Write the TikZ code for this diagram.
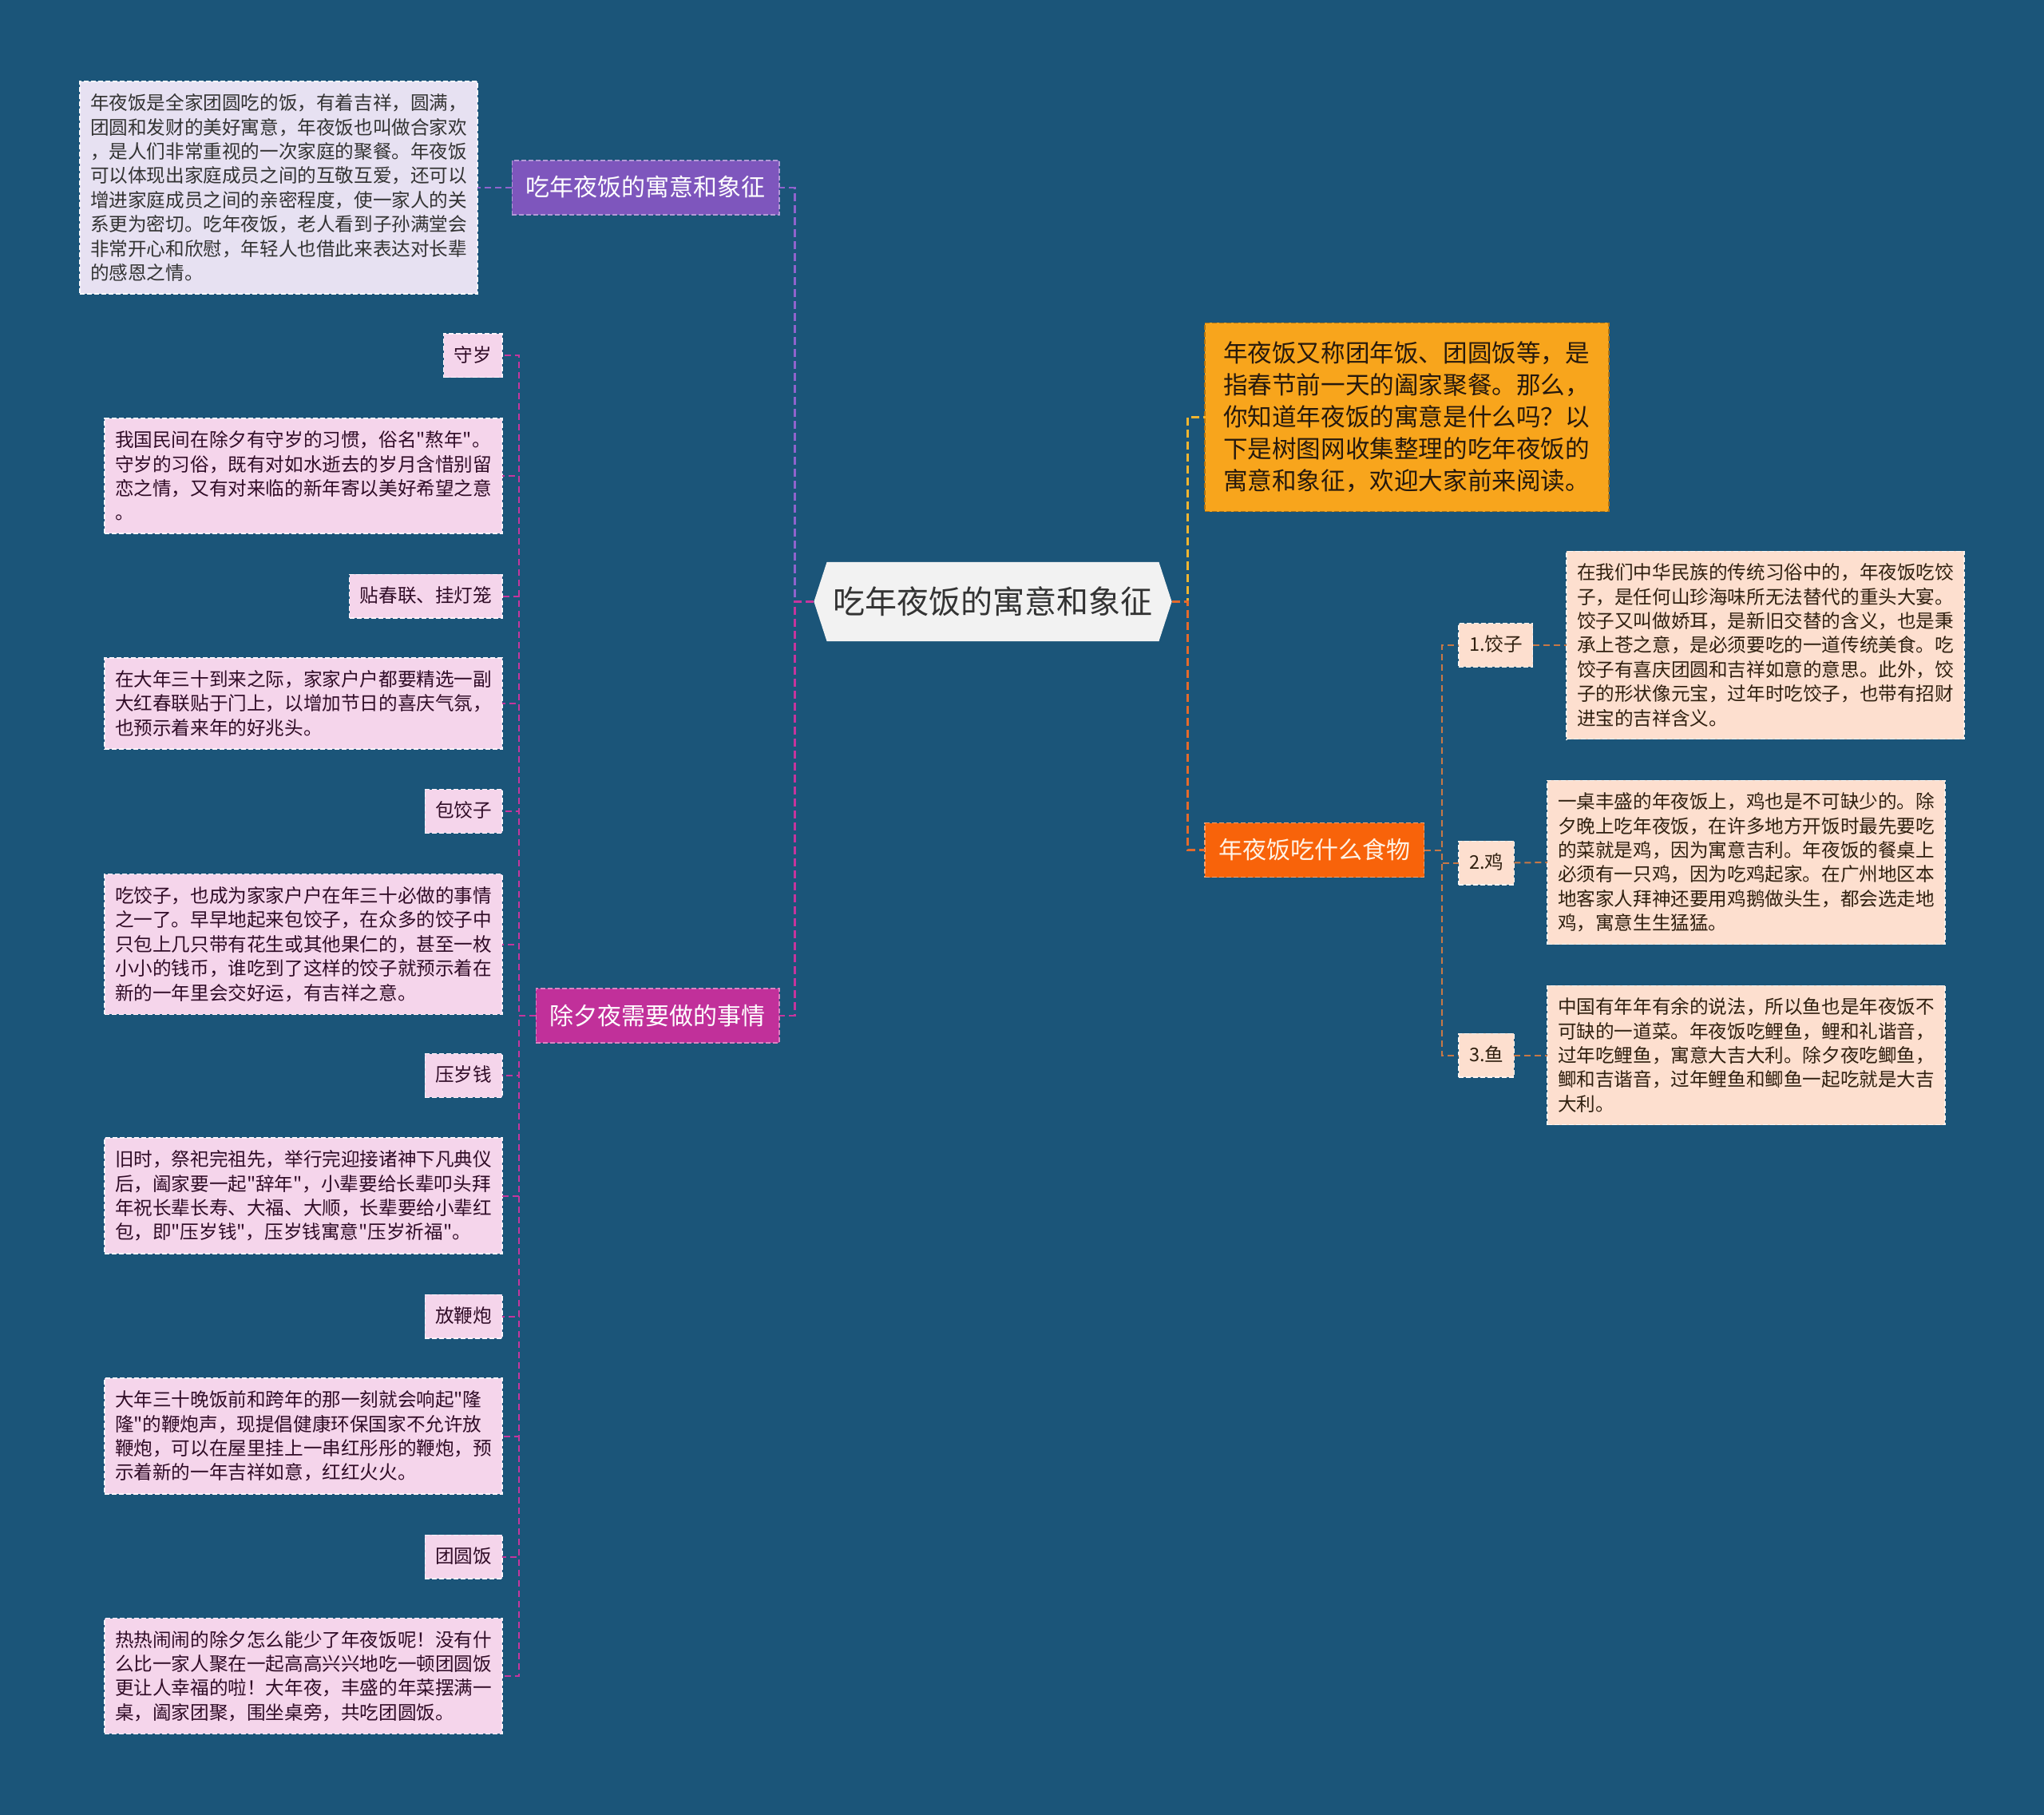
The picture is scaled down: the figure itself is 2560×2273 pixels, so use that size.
\documentclass[tikz,border=0pt]{standalone}
\usepackage{fontspec}
\setmainfont{Noto Sans CJK SC}[Ligatures=TeXOff]
\usepackage{xcolor}
\usepackage{tikz}
\usetikzlibrary{positioning, shapes.symbols}

\definecolor{bgblue}{HTML}{1B5579}
\definecolor{rootgray}{HTML}{F2F2F2}
\definecolor{purpletopic}{HTML}{7E56BD}
\definecolor{purplenote}{HTML}{E7E1F2}
\definecolor{purplelink}{HTML}{9063CD}
\definecolor{magentatopic}{HTML}{C1309A}
\definecolor{magentanote}{HTML}{F5D5EB}
\definecolor{magentalink}{HTML}{C6359D}
\definecolor{introyellow}{HTML}{F8A51C}
\definecolor{yellowlink}{HTML}{F2B530}
\definecolor{orangetopic}{HTML}{F8630A}
\definecolor{orangelink}{HTML}{E56A2B}
\definecolor{peachnote}{HTML}{FDDFCF}
\definecolor{brownlink}{HTML}{C87846}

\begin{document}
\begin{tikzpicture}[x=0.5pt, y=-0.5pt,
    box/.style={outer sep=0pt, inner xsep=6.5pt, inner ysep=7.8pt, align=left,
      dashed, dash pattern=on 3pt off 1.5pt, line width=0.6pt},
    note/.style={box, text width=236pt, font=\fontsize{11.8}{15.2}\selectfont},
    tag/.style={box, text height=9.8pt, text depth=2pt, font=\fontsize{11.8}{15.2}\selectfont},
    topic/.style={box, inner xsep=8.7pt, inner ysep=9.5pt, text height=13pt, text depth=2pt,
      text=white, font=\fontsize{15}{20}\selectfont},
    root/.style={signal, signal to=east and west, signal pointer angle=144, fill=rootgray,
      outer sep=0pt, inner xsep=4pt, minimum height=49.5pt, text=black!80,
      font=\fontsize{20}{24}\selectfont},
    link/.style={dashed, dash pattern=on 5pt off 2.5pt, line width=1.4pt},
    sublink/.style={dashed, dash pattern=on 4pt off 2.5pt, line width=1pt}]

    \useasboundingbox (0,0) rectangle (2560,2273);
    \fill[bgblue] (0,0) rectangle (2560,2273);

    % Root
    \node[root] (root) at (1243.5,753.5) {吃年夜饭的寓意和象征};

    % Left: meaning
    \node[topic, fill=purpletopic, draw=purpletopic!60!white, anchor=east] (meaning) at (976,235) {吃年夜饭的寓意和象征};
    \node[note, fill=purplenote, draw=white!80!purplenote, text=black!80, anchor=east] (meaningNote) at (598,235)
      {年夜饭是全家团圆吃的饭，有着吉祥，圆满，\\团圆和发财的美好寓意，年夜饭也叫做合家欢\\，是人们非常重视的一次家庭的聚餐。年夜饭\\可以体现出家庭成员之间的互敬互爱，还可以\\增进家庭成员之间的亲密程度，使一家人的关\\系更为密切。吃年夜饭，老人看到子孙满堂会\\非常开心和欣慰，年轻人也借此来表达对长辈\\的感恩之情。};

    % Left: new year's eve
    \node[topic, fill=magentatopic, draw=magentatopic!60!white, anchor=east] (eve) at (976,1272) {除夕夜需要做的事情};
    \begin{scope}[every node/.append style={fill=magentanote, draw=white!75!magentanote, text=black!75!magentatopic, anchor=east}]
    \node[tag] (watch) at (629,445.5) {守岁};
    \node[note] (watchNote) at (629,596)
      {我国民间在除夕有守岁的习惯，俗名"熬年"。\\守岁的习俗，既有对如水逝去的岁月含惜别留\\恋之情，又有对来临的新年寄以美好希望之意\\。};
    \node[tag] (couplet) at (629,746.5) {贴春联、挂灯笼};
    \node[note] (coupletNote) at (629,881)
      {在大年三十到来之际，家家户户都要精选一副\\大红春联贴于门上，以增加节日的喜庆气氛，\\也预示着来年的好兆头。};
    \node[tag] (wrap) at (629,1016) {包饺子};
    \node[note] (wrapNote) at (629,1182.5)
      {吃饺子，也成为家家户户在年三十必做的事情\\之一了。早早地起来包饺子，在众多的饺子中\\只包上几只带有花生或其他果仁的，甚至一枚\\小小的钱币，谁吃到了这样的饺子就预示着在\\新的一年里会交好运，有吉祥之意。};
    \node[tag] (money) at (629,1347) {压岁钱};
    \node[note] (moneyNote) at (629,1497.5)
      {旧时，祭祀完祖先，举行完迎接诸神下凡典仪\\后，阖家要一起"辞年"，小辈要给长辈叩头拜\\年祝长辈长寿、大福、大顺，长辈要给小辈红\\包，即"压岁钱"，压岁钱寓意"压岁祈福"。};
    \node[tag] (firecracker) at (629,1648.5) {放鞭炮};
    \node[note] (firecrackerNote) at (629,1798.5)
      {大年三十晚饭前和跨年的那一刻就会响起"隆\\隆"的鞭炮声，现提倡健康环保国家不允许放\\鞭炮，可以在屋里挂上一串红彤彤的鞭炮，预\\示着新的一年吉祥如意，红红火火。};
    \node[tag] (reunion) at (629,1949.5) {团圆饭};
    \node[note] (reunionNote) at (629,2099)
      {热热闹闹的除夕怎么能少了年夜饭呢！没有什\\么比一家人聚在一起高高兴兴地吃一顿团圆饭\\更让人幸福的啦！大年夜，丰盛的年菜摆满一\\桌，阖家团聚，围坐桌旁，共吃团圆饭。};
    \end{scope}

    % Right: intro and food
    \node[box, fill=introyellow, draw=introyellow!70!black, text=black!80!brown, anchor=west,
      text width=230pt, inner xsep=11.5pt, inner ysep=11.8pt, font=\fontsize{15.3}{20}\selectfont] (intro) at (1509,522.5)
      {年夜饭又称团年饭、团圆饭等，是\\指春节前一天的阖家聚餐。那么，\\你知道年夜饭的寓意是什么吗？以\\下是树图网收集整理的吃年夜饭的\\寓意和象征，欢迎大家前来阅读。};
    \node[topic, fill=orangetopic, draw=orangetopic!60!white, text=orange!10!white, anchor=west] (food) at (1509,1064.5) {年夜饭吃什么食物};
    \begin{scope}[every node/.append style={fill=peachnote, draw=white!70!peachnote, text=black!75!brown, anchor=west}]
    \node[tag] (dumpling) at (1827,808) {1.饺子};
    \node[note] (dumplingNote) at (1962,808)
      {在我们中华民族的传统习俗中的，年夜饭吃饺\\子，是任何山珍海味所无法替代的重头大宴。\\饺子又叫做娇耳，是新旧交替的含义，也是秉\\承上苍之意，是必须要吃的一道传统美食。吃\\饺子有喜庆团圆和吉祥如意的意思。此外，饺\\子的形状像元宝，过年时吃饺子，也带有招财\\进宝的吉祥含义。};
    \node[tag] (chicken) at (1827,1080.5) {2.鸡};
    \node[note] (chickenNote) at (1938,1080)
      {一桌丰盛的年夜饭上，鸡也是不可缺少的。除\\夕晚上吃年夜饭，在许多地方开饭时最先要吃\\的菜就是鸡，因为寓意吉利。年夜饭的餐桌上\\必须有一只鸡，因为吃鸡起家。在广州地区本\\地客家人拜神还要用鸡鹅做头生，都会选走地\\鸡，寓意生生猛猛。};
    \node[tag] (fish) at (1827,1321.5) {3.鱼};
    \node[note] (fishNote) at (1938,1321.5)
      {中国有年年有余的说法，所以鱼也是年夜饭不\\可缺的一道菜。年夜饭吃鲤鱼，鲤和礼谐音，\\过年吃鲤鱼，寓意大吉大利。除夕夜吃鲫鱼，\\鲫和吉谐音，过年鲤鱼和鲫鱼一起吃就是大吉\\大利。};
    \end{scope}

    % Connectors
    \draw[link, purplelink] (root.west) -- ++(-24,0) |- (meaning.east);
    \draw[link, magentalink] (root.west) -- ++(-24,0) |- (eve.east);
    \draw[sublink, purplelink] (meaning.west) -- (meaningNote.east);
    \foreach \n in {watch, watchNote, couplet, coupletNote, wrap, wrapNote,
                    money, moneyNote, firecracker, firecrackerNote, reunion, reunionNote}
      \draw[sublink, magentalink] (eve.west) -- ++(-21,0) |- (\n.east);
    \draw[link, yellowlink] (root.east) -- ++(20,0) |- (intro.west);
    \draw[link, orangelink] (root.east) -- ++(20,0) |- (food.west);
    \foreach \n in {dumpling, chicken, fish}
      \draw[sublink, brownlink] (food.east) -- ++(22,0) |- (\n.west);
    \draw[sublink, brownlink] (dumpling.east) -- (dumplingNote.west);
    \draw[sublink, brownlink] (chicken.east) -- (chickenNote.west);
    \draw[sublink, brownlink] (fish.east) -- (fishNote.west);
\end{tikzpicture}
\end{document}
